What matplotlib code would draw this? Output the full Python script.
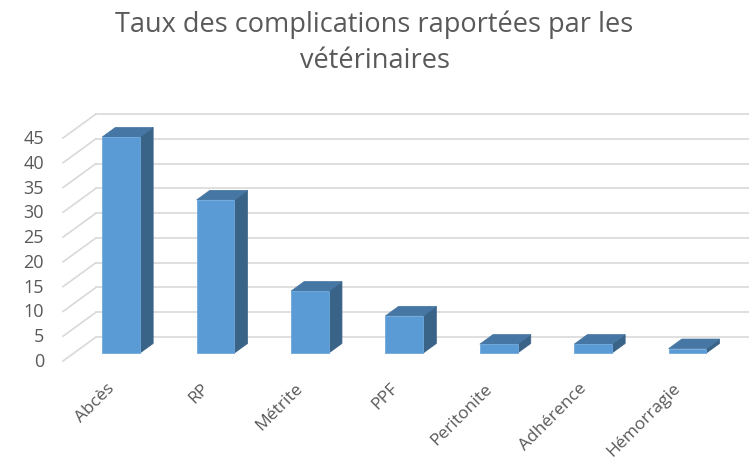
import numpy as np
import matplotlib
matplotlib.use("Agg")
import matplotlib.pyplot as plt
from matplotlib.patches import Polygon

# ----------------------------
# Data
# ----------------------------
categories = ["Abcès", "RP", "Métrite", "PPF", "Peritonite", "Adhérence", "Hémorragie"]
values = [43.6, 30.9, 12.5, 7.5, 1.8, 1.8, 0.9]
yticks = [0, 5, 10, 15, 20, 25, 30, 35, 40, 45]
title = "Taux des complications raportées par les\nvétérinaires"

# ----------------------------
# Styling / geometry (oblique 3D look)
# ----------------------------
W, H = 749, 464
px_x = 94.4          # pixels per category
px_y = 4.956         # pixels per value unit
x0_px, y0_px = 63, 362   # front-left floor corner (pixels from top-left)
dx = 33 / px_x       # depth offset (data units)
dy = 24 / px_y
bar_w = 0.40
f_front, f_back = 0.33, 0.73   # bar depth within the floor

c_front = "#5b9bd5"
c_side = "#3a6388"
c_top = "#4676a3"
grid_c = "#d9d9d9"
text_c = "#595959"

plt.rcParams['font.family'] = ['Open Sans', 'DejaVu Sans']

fig = plt.figure(figsize=(W / 100, H / 100), dpi=100)
ax = fig.add_axes([0, 0, 1, 1])
ax.set_xlim(-x0_px / px_x, (W - x0_px) / px_x)
ax.set_ylim(-(H - y0_px) / px_y, y0_px / px_y)
ax.axis("off")

n = len(categories)

# back wall gridlines + oblique side lines
for v in yticks:
    ax.plot([dx, n + dx], [v + dy, v + dy], color=grid_c, lw=1.2, zorder=1)
    ax.plot([0, dx], [v, v + dy], color=grid_c, lw=1.2, zorder=1)
    ax.text(-19 / px_x, v, str(v), ha="right", va="center",
            fontsize=13, color=text_c)

# bars
for i, v in enumerate(values):
    xl = i + 0.5 - bar_w / 2 + f_front * dx
    yb = f_front * dy
    ox = (f_back - f_front) * dx
    oy = (f_back - f_front) * dy
    ax.add_patch(Polygon([(xl + bar_w, yb), (xl + bar_w + ox, yb + oy),
                          (xl + bar_w + ox, yb + oy + v), (xl + bar_w, yb + v)],
                         closed=True, facecolor=c_side, edgecolor=c_side, lw=0.5, zorder=3))
    ax.add_patch(Polygon([(xl, yb + v), (xl + bar_w, yb + v),
                          (xl + bar_w + ox, yb + oy + v), (xl + ox, yb + oy + v)],
                         closed=True, facecolor=c_top, edgecolor=c_top, lw=0.5, zorder=3))
    ax.bar(xl, v, width=bar_w, bottom=yb, align="edge", color=c_front,
           edgecolor="#6fa8dc", lw=0.6, zorder=4)

# category labels
for i, c in enumerate(categories):
    ax.text(i + 0.5 + 0.02, -4.9, c, rotation=45, rotation_mode="anchor",
            ha="right", va="center", fontsize=12.5, color=text_c)

fig.text(0.5, 1 - 43 / H, title, ha="center", va="center", fontsize=19.5,
         color=text_c, linespacing=1.4)

fig.savefig("out.png", dpi=100)
